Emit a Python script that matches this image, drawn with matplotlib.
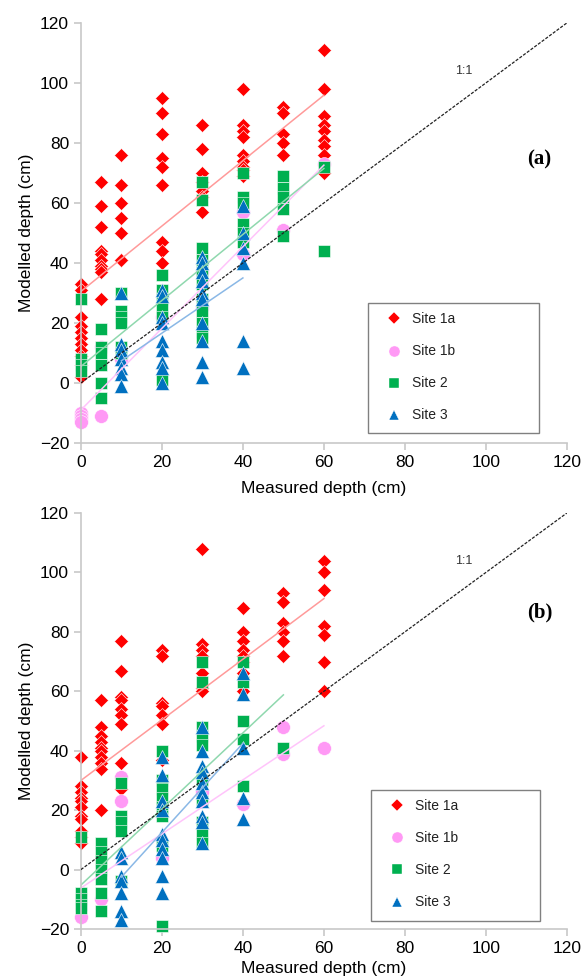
import numpy as np
import matplotlib.pyplot as plt
from matplotlib.lines import Line2D
from matplotlib.patches import Rectangle

plt.rcParams['font.family'] = ['Liberation Sans', 'DejaVu Sans']

# panel (a): modelled depth per measured depth
a_site1a = {0: [33, 31, 22, 19, 17, 15, 13, 11, 9, 6, 2],
            5: [67, 59, 52, 44, 43, 41, 39, 38, 37, 28],
            10: [76, 66, 60, 55, 50, 41, 41],
            20: [95, 90, 83, 75, 72, 66, 47, 44, 40],
            30: [86, 78, 70, 67, 64, 62, 57],
            40: [98, 86, 84, 82, 76, 74, 72, 71, 69],
            50: [92, 90, 83, 80, 76],
            60: [111, 98, 89, 86, 84, 81, 79, 76, 70]}
a_site1b = {0: [-10, -11, -12, -13],
            5: [-11, 12],
            10: [8],
            20: [22],
            30: [25, 37],
            40: [43, 57],
            50: [51],
            60: [73]}
a_site2 = {0: [28, 8, 6, 4],
           5: [18, 12, 10, 6, 0, -5],
           10: [30, 24, 22, 20, 12, 10],
           20: [36, 31, 28, 25, 22, 1],
           30: [67, 61, 45, 41, 37, 33, 28, 24, 20, 17, 15],
           40: [70, 62, 60, 53, 50, 47],
           50: [69, 65, 62, 58, 49],
           60: [72, 44]}
a_site3 = {10: [30, 13, 11, 8, 5, 3, -1],
           20: [31, 29, 22, 20, 14, 11, 7, 5, 0],
           30: [42, 40, 37, 34, 30, 28, 20, 14, 7, 2],
           40: [59, 50, 45, 40, 14, 5]}

# panel (b)
b_site1a = {0: [38, 28, 26, 24, 23, 21, 18, 17, 13, 11, 9],
            5: [57, 48, 45, 43, 41, 40, 38, 36, 34, 20],
            10: [77, 67, 58, 57, 54, 52, 49, 36, 27],
            20: [74, 72, 56, 55, 52, 49, 37],
            30: [108, 76, 74, 72, 66, 61, 60],
            40: [88, 80, 77, 74, 72, 70, 66, 60],
            50: [93, 90, 83, 80, 77, 72],
            60: [104, 100, 94, 82, 79, 70, 60]}
b_site1b = {0: [-16],
            5: [-10],
            10: [31, 23],
            20: [4],
            30: [26],
            40: [22],
            50: [48, 39],
            60: [41]}
b_site2 = {0: [11, -8, -10, -12, -13],
           5: [9, 6, 3, 0, -3, -8, -14],
           10: [29, 18, 16, 13, -4],
           20: [40, 30, 27, 24, 21, 18, 8, -19],
           30: [70, 63, 48, 45, 42, 30, 23, 16, 12, 9],
           40: [70, 63, 50, 44, 28],
           50: [41]}
b_site3 = {10: [6, 4, -2, -4, -8, -14, -17],
           20: [38, 32, 23, 20, 12, 10, 7, 4, -2, -8],
           30: [48, 40, 35, 33, 29, 26, 23, 18, 16, 9],
           40: [66, 59, 41, 24, 17]}

# linear trendlines (slope, intercept) as shown on the chart
a_trend = [(1.09, 30.5), (1.36, -9.0), (1.10, 5.5), (0.92, -1.8)]
b_trend = [(1.02, 30.0), (0.91, -6.2), (1.28, -5.2), (1.50, -17.5)]

labels = ['Site 1a', 'Site 1b', 'Site 2', 'Site 3']
colors = ['#ff0000', '#ff99f5', '#00b050', '#0070c0']
line_colors = ['#ff9a9a', '#ffc4fb', '#8fd8ae', '#8ab8e6']
markers = ['D', 'o', 's', '^']
msizes = [7.5, 10, 8.5, 9.5]


def flatten(d):
    xs, ys = [], []
    for k, v in d.items():
        xs += [k] * len(v)
        ys += v
    return np.array(xs), np.array(ys)


def panel(ax, series, trends, tag, tag_y, leg_box, xlab_pad):
    ax.plot([0, 120], [0, 120], color='#222222', lw=0.9, ls=(0, (2.5, 1.2)), zorder=3)
    for i, d in enumerate(series):
        x, y = flatten(d)
        ax.plot(x, y, ls='none', marker=markers[i], ms=msizes[i], color=colors[i],
                mec='white', mew=0.4, zorder=2, clip_on=False)
    for i, d in enumerate(series):
        x, y = flatten(d)
        m, c = trends[i]
        xl = np.array([x.min(), x.max()])
        ax.plot(xl, m * xl + c, color=line_colors[i], lw=1.1, zorder=2.5)
    ax.text(94.5, 103, '1:1', fontsize=9, color='#333333', ha='center')
    ax.text(0.944, tag_y, tag, transform=ax.transAxes, va='center',
            fontsize=15, fontweight='bold', family='Liberation Serif', ha='center')

    ax.set_xlim(0, 120)
    ax.set_ylim(-20, 120)
    ax.set_xticks(range(0, 121, 20))
    ax.set_yticks(range(-20, 121, 20))
    for s in ['top', 'right']:
        ax.spines[s].set_visible(False)
    for s in ['left', 'bottom']:
        ax.spines[s].set_color('#c8c8c8')
        ax.spines[s].set_linewidth(1.2)
    ax.tick_params(colors='#c8c8c8', labelcolor='black', labelsize=12.5, length=5, width=1.2)
    ax.set_xlabel('Measured depth (cm)', fontsize=12.5, labelpad=xlab_pad)
    ax.set_ylabel('Modelled depth (cm)', fontsize=12.5, labelpad=4)

    # legend box drawn separately so it can be as wide as in the chart
    x0, y0, x1, y1 = leg_box
    ax.add_patch(Rectangle((x0, y0), x1 - x0, y1 - y0, transform=ax.transAxes,
                           fill=False, ec='#808080', lw=1.0, zorder=4, clip_on=False))
    handles = [Line2D([], [], ls='none', marker=markers[i], color=colors[i],
                      ms=msizes[i] * 0.8, mec='white', mew=0.3) for i in range(4)]
    leg = ax.legend(handles, labels, loc='upper left', bbox_to_anchor=(x0 + 0.032, y1 - 0.022),
                    fontsize=10, frameon=False, labelspacing=1.3, handletextpad=0.55,
                    borderpad=0, borderaxespad=0, handlelength=1.5)
    for t in leg.get_texts():
        t.set_color('#222222')


fig = plt.figure(figsize=(5.82, 9.80), dpi=100)
ax1 = fig.add_axes([0.139, 0.548, 0.835, 0.4286])
ax2 = fig.add_axes([0.139, 0.052, 0.835, 0.4245])

panel(ax1, [a_site1a, a_site1b, a_site2, a_site3], a_trend, '(a)', 0.674,
      (0.59, 0.024, 0.942, 0.333), 8)
panel(ax2, [b_site1a, b_site1b, b_site2, b_site3], b_trend, '(b)', 0.76,
      (0.597, 0.02, 0.944, 0.334), 4)

fig.savefig('out.png', dpi=100)
